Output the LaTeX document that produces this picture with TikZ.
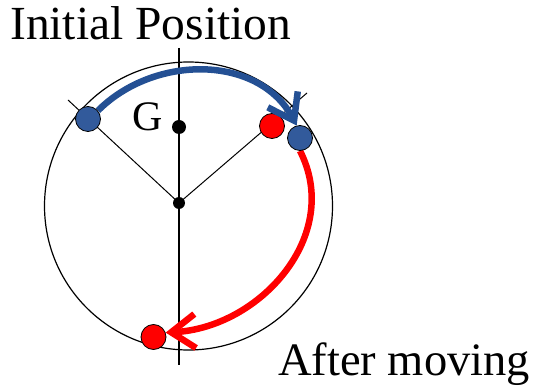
\documentclass[tikz,border=0pt]{standalone}
\usepackage{fontspec}
\setmainfont{Liberation Serif}
\usetikzlibrary{arrows.meta}
\definecolor{dotblue}{RGB}{50,90,155}
\definecolor{arcblue}{RGB}{36,80,148}
\pgfdeclarelayer{back}
\pgfdeclarelayer{mid}
\pgfsetlayers{back,mid,main}

\begin{document}
\begin{tikzpicture}[x=1pt, y=-1pt,
  dot/.style={circle, draw=black, line width=0.8pt, minimum size=25pt, inner sep=0pt},
  pivot/.style={circle, fill=black, minimum size=13pt, inner sep=0pt},
  caption/.style={font=\rmfamily\fontsize{46.5}{50}\selectfont, inner sep=0pt},
  movearrow/.style={line width=6.5pt, -{Straight Barb[length=24pt, width=34pt]}}]
  \useasboundingbox (0,0) rectangle (533,387);
  % masses
  \node[dot, fill=dotblue] (b1) at (88,119) {};
  \node[dot, fill=dotblue] (b2) at (300,138) {};
  \node[dot, fill=red] (r2) at (153.5,337) {};
  \begin{pgfonlayer}{back}
    % wheel and axes
    \node[circle, draw, line width=1.2pt, minimum size=288pt, inner sep=0pt] (wheel) at (188.5,206) {};
    \coordinate (axistop) at (179,48);
    \coordinate (axisbot) at (179,365);
    \coordinate (spokel) at (68,100);
    \coordinate (spoker) at (307,93);
    \draw[line width=1.4pt] (axistop) -- (axisbot);
    \node[pivot, minimum size=12pt] (hub) at (179,203) {};
    \node[pivot, minimum size=14pt] (g) at (179,127) {};
    \draw[line width=1pt] (hub.center) -- (spokel);
    \draw[line width=1pt] (hub.center) -- (spoker);
    \node[caption, anchor=base west, font=\rmfamily\fontsize{42}{46}\selectfont] (glabel) at (132,131) {G};
    \node[dot, fill=red] (r1) at (272,126) {};
  \end{pgfonlayer}
  % motion
  \begin{pgfonlayer}{mid}
    \draw[movearrow, arcblue] (b1.40) to[out=45, in=118, looseness=1.03] (b2.105);
    \draw[movearrow, red] (b2.south) to[out=-63, in=3, looseness=1.07] (r2.20);
  \end{pgfonlayer}
  % captions
  \node[caption, anchor=base west, font=\rmfamily\fontsize{47.5}{50}\selectfont] (init) at (10,40) {Initial Position};
  \node[caption, anchor=base west] (after) at (278,376) {After moving};
\end{tikzpicture}
\end{document}
